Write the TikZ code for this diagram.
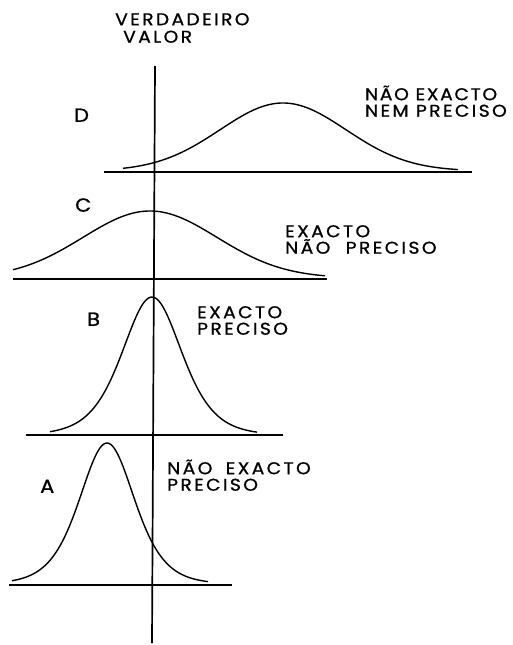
\documentclass[tikz,border=0pt]{standalone}
\usepackage{fontspec}
\setmainfont{Poppins}[LetterSpace=14, FakeBold=1, FakeStretch=1.1]
\usepackage{tikz}
\usetikzlibrary{positioning}

\begin{document}
\begin{tikzpicture}[
      x=1pt, y=-1pt,
      font=\fontsize{17}{16.5}\selectfont,
      eixo/.style={line width=1.7pt, black},
      curva/.style={line width=1.4pt, black, smooth},
      rotulo/.style={anchor=south west, inner sep=0pt, align=left},
      letra/.style={anchor=south west, inner sep=0pt, font=\fontsize{19}{19}\selectfont}
    ]
    \useasboundingbox (0,0) rectangle (512,645);

    \draw[eixo] (155,66) -- (152,643);
    \foreach \xa/\xb/\yy in {104/472/172, 13/327/279, 26/283/435, 9/232/585}
      {\draw[eixo] (\xa,\yy) -- (\xb,\yy);}

    \draw[curva] plot[domain=123:458, samples=120]
      (\x, {171 - 68*exp(-((\x-283)/63)^2/2)});
    \draw[curva] plot[domain=13:325, samples=120]
      (\x, {278 - 67*exp(-((\x-150)/67)^2/2)});
    \draw[curva] plot[domain=50:257, samples=140]
      (\x, {435 - 138*4/(exp((\x-152)/40)+exp(-(\x-152)/40))^2});
    \draw[curva] plot[domain=12:208, samples=140]
      (\x, {584 - 141*4/(exp((\x-107)/37)+exp(-(\x-107)/37))^2});

    \node[rotulo] (verdadeiro) at (115,43) {VERDADEIRO\\[1pt]\hspace*{8pt}VALOR};

    \node[letra] (d) at (74,122) {D};
    \node[letra] (c) at (75,212) {C};
    \node[letra] (b) at (87,326) {B};
    \node[letra] (a) at (40,493) {A};

    \node[rotulo, anchor=south east] (td) at (507,117)
      {\addfontfeatures{LetterSpace=10}NÃO~EXACTO\\NEM PRECISO};
    \node[rotulo] (tc) at (285,254) {EXACTO\\NÃO~\hspace{8pt}PRECISO};
    \node[rotulo] (tb) at (197,335) {EXACTO\\PRECISO};
    \node[rotulo] (ta) at (167,491) {NÃO~\hspace{6pt}EXACTO\\PRECISO};
\end{tikzpicture}
\end{document}
